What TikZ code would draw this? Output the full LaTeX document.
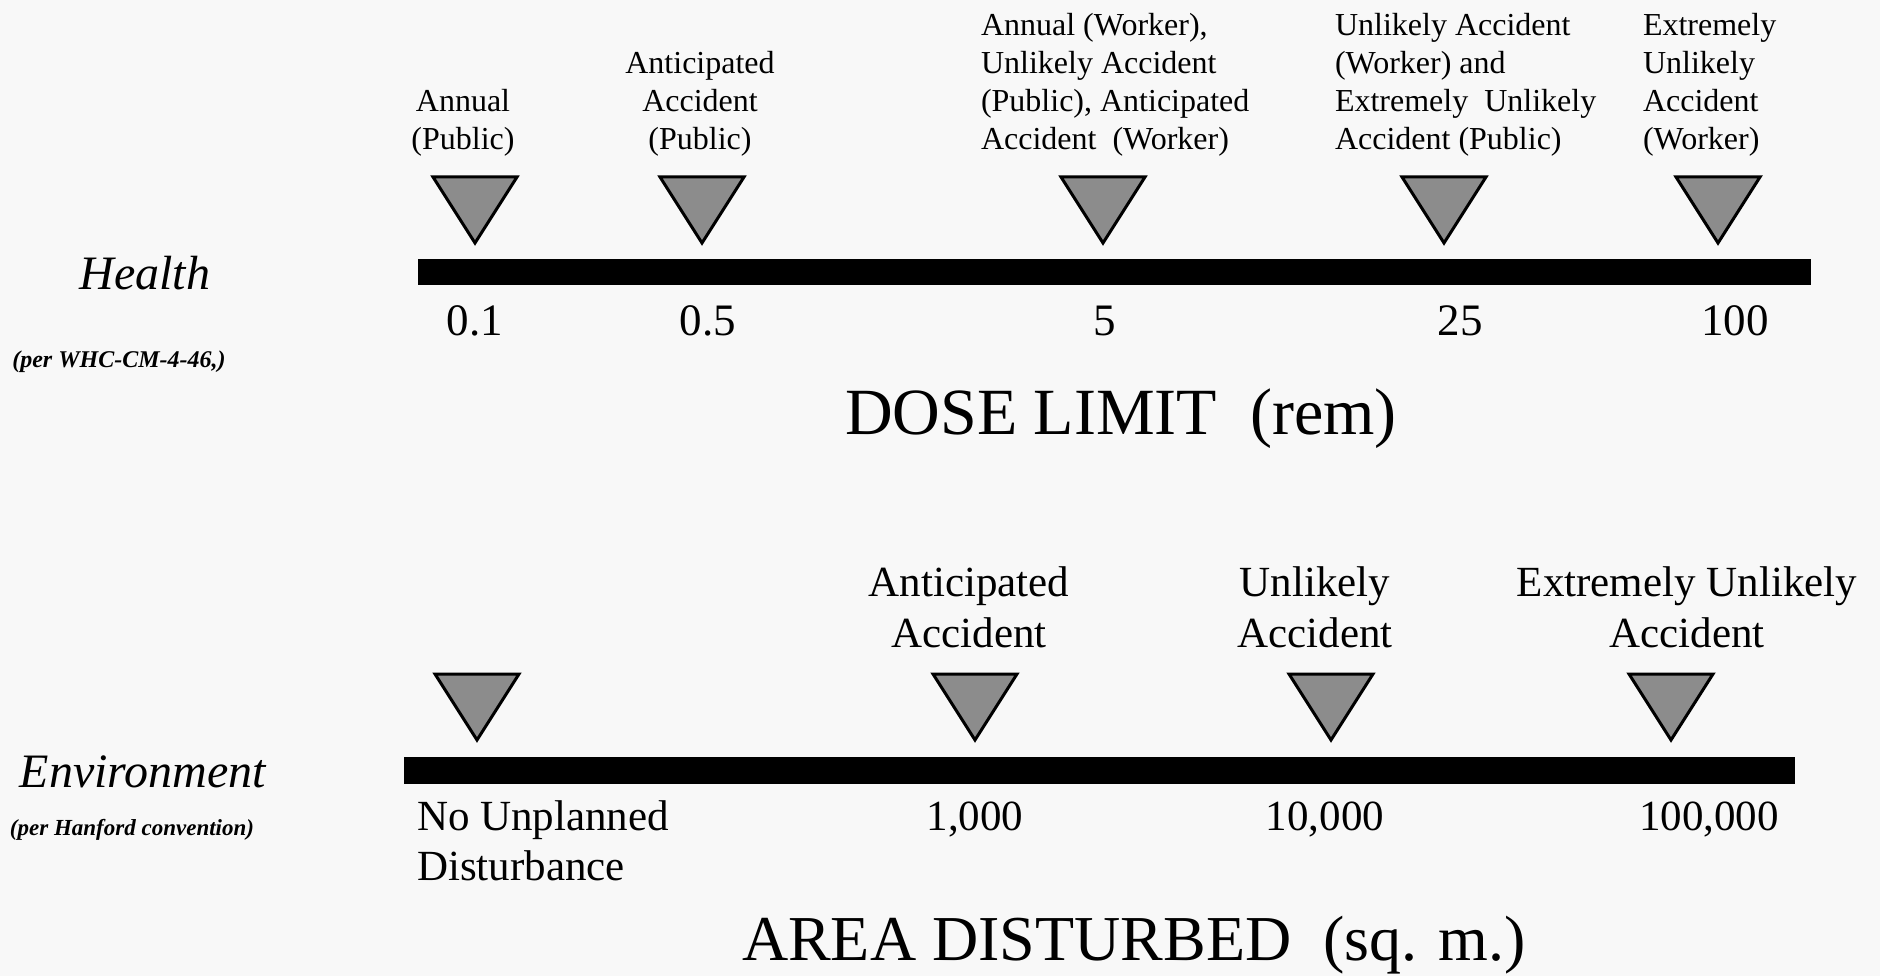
\documentclass[tikz,border=0pt]{standalone}
\usepackage{fontspec}
\setmainfont{Liberation Serif}
\definecolor{bg}{RGB}{248,248,248}
\definecolor{trifill}{RGB}{140,140,140}
\tikzset{
  every node/.style={inner sep=0pt, outer sep=0pt},
  toplabel/.style={font=\fontsize{32}{38}\selectfont, anchor=base},
  botlabel/.style={font=\fontsize{43}{51}\selectfont, anchor=base, align=center},
  ticktop/.style={font=\fontsize{45}{54}\selectfont, anchor=base},
  tickbot/.style={font=\fontsize{43}{50}\selectfont, anchor=base},
  axistitle/.style={font=\fontsize{66}{78}\selectfont, anchor=base},
  sidetitle/.style={font=\fontsize{48}{56}\itshape, anchor=base},
  sidenote/.style={font=\fontsize{23}{27}\selectfont\bfseries\itshape, anchor=base},
  bar/.style={fill=black},
  markerstyle/.style={draw=black, line width=3pt, fill=trifill, line join=miter},
  marker/.pic={\path[markerstyle] (-42,0) -- (42,0) -- (0,66) -- cycle;}
}
\begin{document}
\begin{tikzpicture}[x=1pt, y=-1pt]
\fill[bg] (0,0) rectangle (1880,976);
\useasboundingbox (0,0) rectangle (1880,976);

% ---------- Health ----------
\node[sidetitle] (health) at (145,290) {Health};
\node[sidenote, font=\fontsize{24}{28}\selectfont\bfseries\itshape] (healthnote) at (119,367) {(per WHC-CM-4-46,)};

\node[toplabel, align=center] (t1) at (463,150) {Annual\\(Public)};
\node[toplabel, align=center] (t2) at (700,150) {Anticipated\\Accident\\(Public)};
\node[toplabel, align=left, anchor=base west] (t3) at (981,150) {Annual (Worker),\\Unlikely Accident\\(Public), Anticipated\\Accident\ \ (Worker)};
\node[toplabel, align=left, anchor=base west] (t4) at (1335,150) {Unlikely Accident\\(Worker) and\\Extremely\ \ Unlikely\\Accident (Public)};
\node[toplabel, align=left, anchor=base west] (t5) at (1643,150) {Extremely\\Unlikely\\Accident\\(Worker)};

\pic at (475,177) {marker};
\pic at (702,177) {marker};
\pic at (1103,177) {marker};
\pic at (1444,177) {marker};
\pic at (1718,177) {marker};

\path[bar] (418,259) rectangle (1811,285);

\node[ticktop] (v1) at (475,336) {0.1};
\node[ticktop] (v2) at (708,336) {0.5};
\node[ticktop] (v3) at (1105,336) {5};
\node[ticktop] (v4) at (1460,336) {25};
\node[ticktop] (v5) at (1735,336) {100};

\node[axistitle] (dose) at (1121,434) {DOSE LIMIT\ \ (rem)};

% ---------- Environment ----------
\node[sidetitle] (env) at (143,787) {Environment};
\node[sidenote] (envnote) at (132,835) {(per Hanford convention)};

\node[botlabel] (b1) at (969,647) {Anticipated\\Accident};
\node[botlabel] (b2) at (1315,647) {Unlikely\\Accident};
\node[botlabel] (b3) at (1687,647) {Extremely Unlikely\\Accident};

\pic at (477,674) {marker};
\pic at (975,674) {marker};
\pic at (1331,674) {marker};
\pic at (1671,674) {marker};

\path[bar] (404,757) rectangle (1795,784);

\node[tickbot, align=left, anchor=base west] (w0) at (417,880) {No Unplanned\\Disturbance};
\node[tickbot] (w1) at (975,830) {1,000};
\node[tickbot] (w2) at (1325,830) {10,000};
\node[tickbot] (w3) at (1709,830) {100,000};

\node[axistitle, font=\fontsize{64}{76}\selectfont] (area) at (1134,960) {AREA DISTURBED\ \ (sq. m.)};
\end{tikzpicture}
\end{document}
